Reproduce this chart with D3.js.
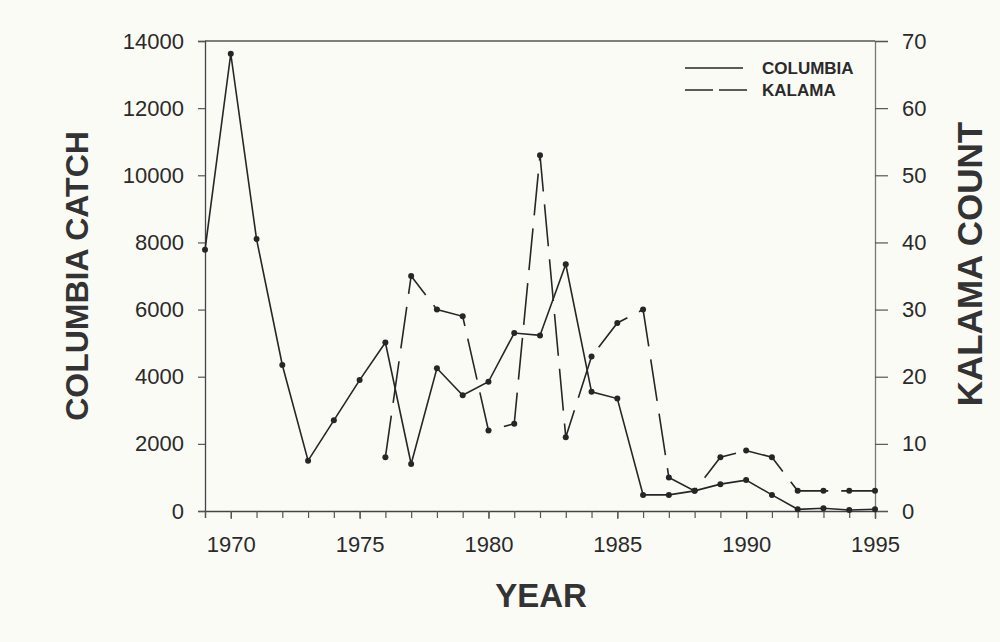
<!DOCTYPE html>
<html><head><meta charset="utf-8">
<script src="https://cdn.jsdelivr.net/npm/d3@7"></script>
<style>
html,body{margin:0;padding:0;background:#fbfbf6;}
svg{display:block;font-family:"Liberation Sans",Arial,Helvetica,sans-serif;}
</style></head>
<body>
<svg id="chart" width="1000" height="642"></svg>
<script>
const years = [1969,1970,1971,1972,1973,1974,1975,1976,1977,1978,1979,1980,1981,1982,1983,1984,1985,1986,1987,1988,1989,1990,1991,1992,1993,1994,1995];
const columbiaCatch = [7780,13620,8100,4350,1500,2700,3900,5020,1400,4250,3450,3850,5300,5230,7350,3550,3350,480,480,600,800,920,480,50,80,30,50];
const kalamaYears = [1976,1977,1978,1979,1980,1981,1982,1983,1984,1985,1986,1987,1988,1989,1990,1991,1992,1993,1994,1995];
const kalamaCount = [8,35,30,29,12,13,53,11,23,28,30,5,3,8,9,8,3,3,3,3];
const leftTicks = [0,2000,4000,6000,8000,10000,12000,14000];
const rightTicks = [0,10,20,30,40,50,60,70];
const xTickLabels = [1970,1975,1980,1985,1990,1995];
const seriesNames = ["COLUMBIA","KALAMA"];

const svg = d3.select("#chart");
const L = 205, R = 875, T = 41, B = 511;
const ink = "#262626";

const x = d3.scaleLinear().domain([1969,1995]).range([L,R]);
const yL = d3.scaleLinear().domain([0,14000]).range([B,T]);
const yR = d3.scaleLinear().domain([0,70]).range([B,T]);

// Top border
svg.append("line").attr("x1",L).attr("x2",R).attr("y1",T).attr("y2",T)
  .attr("stroke","#555").attr("stroke-width",1.3);

// Left axis
const gL = svg.append("g").attr("transform",`translate(${L},0)`)
  .call(d3.axisLeft(yL).tickValues(leftTicks).tickSize(7).tickPadding(14).tickFormat(d3.format("d")));
// Right axis
const gR = svg.append("g").attr("transform",`translate(${R},0)`)
  .call(d3.axisRight(yR).tickValues(rightTicks).tickSize(13).tickPadding(14).tickFormat(d3.format("d")));
// Bottom axis: minor ticks each year
const gBm = svg.append("g").attr("transform",`translate(0,${B})`)
  .call(d3.axisBottom(x).tickValues(years).tickSize(7).tickFormat(""));
const gB = svg.append("g").attr("transform",`translate(0,${B})`)
  .call(d3.axisBottom(x).tickValues(xTickLabels).tickSize(8).tickPadding(17).tickFormat(d3.format("d")));

[gL,gR,gB,gBm].forEach(g=>{
  g.select(".domain").attr("stroke","#444").attr("stroke-width",1.3);
  g.selectAll(".tick line").attr("stroke","#555").attr("stroke-width",1.2);
  g.selectAll(".tick text").attr("fill","#2a2a2a").style("font-size","22px")
    .style("font-family","'Liberation Sans',Arial,sans-serif");
});
gR.select(".domain").attr("stroke","#777");
gB.select(".domain").remove();

// Lines
const lineC = d3.line().x((d,i)=>x(years[i])).y(d=>yL(d));
svg.append("path").datum(columbiaCatch).attr("d",lineC)
  .attr("fill","none").attr("stroke",ink).attr("stroke-width",1.6);

const lineK = d3.line().x((d,i)=>x(kalamaYears[i])).y(d=>yR(d));
svg.append("path").datum(kalamaCount).attr("d",lineK)
  .attr("fill","none").attr("stroke",ink).attr("stroke-width",1.6)
  .attr("stroke-dasharray","42,13");

// Markers
svg.append("g").selectAll("circle").data(columbiaCatch).join("circle")
  .attr("cx",(d,i)=>x(years[i])).attr("cy",d=>yL(d)).attr("r",3).attr("fill",ink);
svg.append("g").selectAll("circle").data(kalamaCount).join("circle")
  .attr("cx",(d,i)=>x(kalamaYears[i])).attr("cy",d=>yR(d)).attr("r",3).attr("fill",ink);

// Legend
svg.append("line").attr("x1",685).attr("x2",743).attr("y1",68).attr("y2",68)
  .attr("stroke",ink).attr("stroke-width",1.6);
svg.append("line").attr("x1",685).attr("x2",748).attr("y1",90).attr("y2",90)
  .attr("stroke",ink).attr("stroke-width",1.6).attr("stroke-dasharray","28,6");
svg.append("text").attr("x",762).attr("y",74).text(seriesNames[0])
  .attr("fill","#2a2a2a").style("font-size","17px").style("font-weight","bold");
svg.append("text").attr("x",762).attr("y",96).text(seriesNames[1])
  .attr("fill","#2a2a2a").style("font-size","17px").style("font-weight","bold");

// Axis titles
svg.append("text").attr("transform","translate(88,276) rotate(-90)")
  .attr("text-anchor","middle").text("COLUMBIA CATCH")
  .attr("fill","#333").style("font-size","32px").style("font-weight","bold");
svg.append("text").attr("transform","translate(982,264) rotate(-90)")
  .attr("text-anchor","middle").text("KALAMA COUNT")
  .attr("fill","#333").style("font-size","35px").style("font-weight","bold");
svg.append("text").attr("x",541).attr("y",607)
  .attr("text-anchor","middle").text("YEAR")
  .attr("fill","#333").style("font-size","33px").style("font-weight","bold");
</script>
</body></html>
